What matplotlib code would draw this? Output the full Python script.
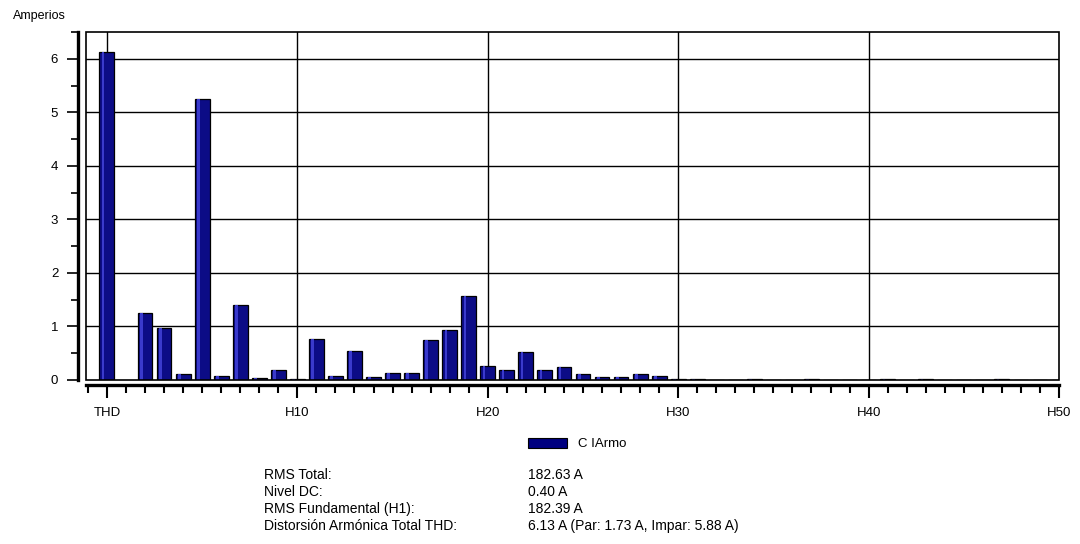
import matplotlib
matplotlib.use("Agg")
import matplotlib.pyplot as plt
from matplotlib.patches import Patch, Rectangle
from matplotlib.ticker import MultipleLocator

plt.rcParams["font.family"] = ["Liberation Sans", "DejaVu Sans"]

# harmonic position 0 = THD, then H2..H50 (H1 is not drawn)
orders = [0] + list(range(2, 51))
amps = [6.13, 1.25, 0.98, 0.11, 5.25, 0.07, 1.40, 0.04, 0.19, 0.02,
        0.77, 0.07, 0.55, 0.05, 0.13, 0.13, 0.74, 0.94, 1.56, 0.27,
        0.18, 0.52, 0.18, 0.24, 0.11, 0.05, 0.05, 0.11, 0.07, 0.02,
        0.02, 0.0, 0.0, 0.02, 0.0, 0.0, 0.02, 0.0, 0.0, 0.0,
        0.02, 0.0, 0.02, 0.0, 0.0, 0.0, 0.02, 0.0, 0.0, 0.0]
xtick_pos = [0, 10, 20, 30, 40, 50]
xtick_labels = ["THD", "H10", "H20", "H30", "H40", "H50"]
series_name = "C IArmo"
stat_labels = ["RMS Total:", "Nivel DC:", "RMS Fundamental (H1):",
               "Distorsión Armónica Total THD:"]
stat_values = ["182.63 A", "0.40 A", "182.39 A",
               "6.13 A (Par: 1.73 A, Impar: 5.88 A)"]

fig = plt.figure(figsize=(10.8, 5.44), dpi=100)
ax = fig.add_axes([0.0796, 0.3015, 0.9010, 0.6397])

ax.set_xlim(-1.1, 50)
ax.set_ylim(0, 6.5)

# grid: horizontal at every amp, vertical every 10 harmonics
for y in range(1, 7):
    ax.axhline(y, color="black", lw=1, zorder=1)
for x in xtick_pos[:-1]:
    ax.axvline(x, color="black", lw=1, zorder=1)

ax.bar(orders, amps, width=0.78, color="#0c0c86", edgecolor="black",
       linewidth=0.9, zorder=3)
# light strip on the left of each bar (gradient look)
ax.bar([o - 0.2 for o in orders], amps, width=0.14, color="#3a3acc",
       linewidth=0, zorder=4)

# plot box
ax.add_patch(Rectangle((0, 0), 1, 1, transform=ax.transAxes, fill=False,
                       edgecolor="black", lw=1.2, zorder=5, clip_on=False))

for s in ("top", "right"):
    ax.spines[s].set_visible(False)
ax.spines["left"].set_position(("outward", 6))
ax.spines["left"].set_linewidth(2.4)
ax.spines["bottom"].set_position(("outward", 3.6))
ax.spines["bottom"].set_linewidth(2.4)

ax.set_yticks(range(0, 7))
ax.yaxis.set_minor_locator(MultipleLocator(0.5))
ax.tick_params(axis="y", which="major", length=8, width=1.2, pad=6, labelsize=9.5)
ax.tick_params(axis="y", which="minor", length=5, width=1.2)

ax.set_xticks(xtick_pos)
ax.set_xticklabels(xtick_labels)
ax.xaxis.set_minor_locator(MultipleLocator(1))
ax.tick_params(axis="x", which="major", length=9.5, width=1.5, pad=6, labelsize=9.5)
ax.tick_params(axis="x", which="minor", length=5.5, width=1.5)

fig.text(13 / 1080, 1 - 16 / 544, "Amperios", fontsize=9, va="center", ha="left")

fig.legend(handles=[Patch(facecolor="#000080", edgecolor="black", lw=0.8)],
           labels=[series_name], loc="center left",
           bbox_to_anchor=(516 / 1080, 1 - 444 / 544),
           frameon=False, fontsize=9.5, handlelength=3.0, handleheight=0.8,
           handletextpad=0.8)

y0 = 1 - 475 / 544
dy = 17 / 544
for i, (lab, val) in enumerate(zip(stat_labels, stat_values)):
    fig.text(264 / 1080, y0 - i * dy, lab, fontsize=10, va="center", ha="left")
    fig.text(528 / 1080, y0 - i * dy, val, fontsize=10, va="center", ha="left")

fig.savefig("out.png", dpi=100)
